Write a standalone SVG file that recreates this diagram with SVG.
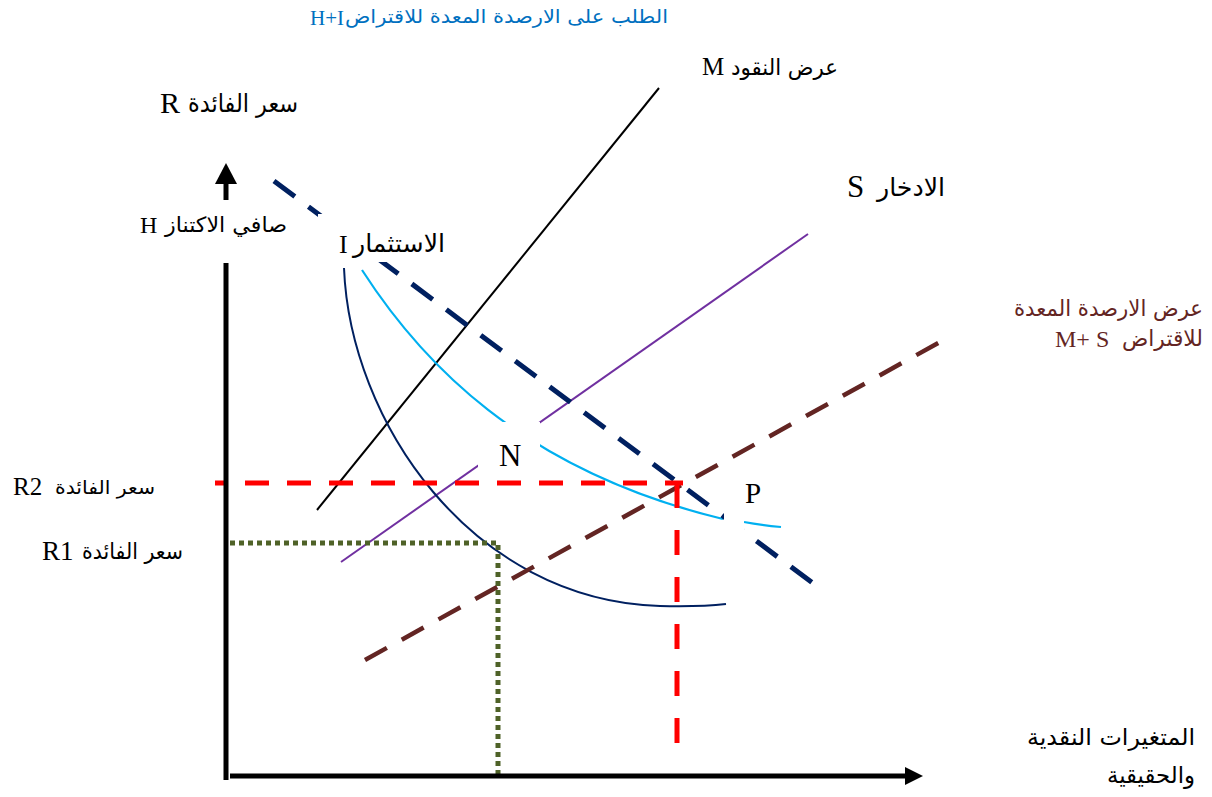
<svg xmlns="http://www.w3.org/2000/svg" width="1212" height="797" viewBox="0 0 1212 797">
<style>
.ar{font-family:"DejaVu Sans","Noto Sans",sans-serif}
.lat{font-family:"Liberation Serif","Times New Roman",serif}
.blk{fill:#000}
.mask{fill:#fff;stroke:none}
</style>
<rect width="1212" height="797" fill="#fff"/>
<g id="connectors" fill="none">
  <line id="line-M" x1="317" y1="510" x2="659" y2="88" stroke="#000" stroke-width="2"/>
  <line id="line-S" x1="341" y1="562" x2="808" y2="234" stroke="#7030A0" stroke-width="2"/>
  <path id="curve-H" d="M344,268 C350,420 470,600 660,606 Q700,607 726,604" stroke="#002060" stroke-width="2"/>
  <path id="curve-I" d="M362,270 C420,360 520,470 723,519" stroke="#00B0F0" stroke-width="2.2"/>
  <path id="curve-I2" d="M744,522 Q760,525 781,527" stroke="#00B0F0" stroke-width="2.2"/>
  <line id="line-HI" x1="274" y1="181" x2="822" y2="590" stroke="#002060" stroke-width="5" stroke-dasharray="26 17"/>
  <line id="line-MS" x1="365" y1="660" x2="940" y2="342" stroke="#632523" stroke-width="4.5" stroke-dasharray="25 17"/>
  <line id="r2-h" x1="215" y1="483" x2="683" y2="483" stroke="#FF0000" stroke-width="5" stroke-dasharray="24 18" stroke-dashoffset="12"/>
  <line id="r2-v" x1="677" y1="483" x2="677" y2="757" stroke="#FF0000" stroke-width="5" stroke-dasharray="25 22"/>
  <polyline id="r1" points="230,543 498,543 498,777" stroke="#4F6228" stroke-width="5" stroke-dasharray="5 4"/>
  <rect class="mask" x="318" y="214" width="130" height="48"/>
  <rect class="mask" x="478" y="422" width="62" height="48"/>
  <rect class="mask" x="724" y="505" width="20" height="30"/>
</g>
<g id="axes">
  <line x1="226" y1="263" x2="226" y2="780" stroke="#000" stroke-width="5"/>
  <line x1="226" y1="182" x2="226" y2="200" stroke="#000" stroke-width="5"/>
  <polygon points="215,184 226,163 237,184" fill="#000"/>
  <line x1="230" y1="776" x2="906" y2="776" stroke="#000" stroke-width="5"/>
  <polygon points="905,767 923,776 905,785" fill="#000"/>
</g>
<g id="label-top">
  <text class="lat" x="310" y="25" font-size="21" fill="#0070C0">H+I</text>
  <text class="ar" x="345" y="23" font-size="19" fill="#0070C0" textLength="323" lengthAdjust="spacingAndGlyphs">الطلب على الارصدة المعدة للاقتراض</text>
</g>
<g id="label-M">
  <text class="lat blk" x="702" y="75" font-size="25">M</text>
  <text class="ar blk" x="731" y="75" font-size="22" textLength="107" lengthAdjust="spacingAndGlyphs">عرض النقود</text>
</g>
<g id="label-R">
  <text class="lat blk" x="160" y="113" font-size="30">R</text>
  <text class="ar blk" x="188" y="112" font-size="25" textLength="110" lengthAdjust="spacingAndGlyphs">سعر الفائدة</text>
</g>
<g id="label-H">
  <text class="lat blk" x="140" y="233" font-size="24">H</text>
  <text class="ar blk" x="165" y="232" font-size="21" textLength="122" lengthAdjust="spacingAndGlyphs">صافي الاكتناز</text>
</g>
<g id="label-I">
  <text class="lat blk" x="339" y="253" font-size="26">I</text>
  <text class="ar blk" x="353" y="252" font-size="25" textLength="92" lengthAdjust="spacingAndGlyphs">الاستثمار</text>
</g>
<g id="label-S">
  <text class="lat blk" x="847" y="197" font-size="31">S</text>
  <text class="ar blk" x="877" y="196" font-size="25" textLength="68" lengthAdjust="spacingAndGlyphs">الادخار</text>
</g>
<g id="label-MS">
  <text class="ar" x="1014" y="316" font-size="22" fill="#632523" textLength="189" lengthAdjust="spacingAndGlyphs">عرض الارصدة المعدة</text>
  <text class="lat" x="1055" y="347" font-size="24" fill="#632523">M+ S</text>
  <text class="ar" x="1122" y="346" font-size="22" fill="#632523" textLength="81" lengthAdjust="spacingAndGlyphs">للاقتراض</text>
</g>
<g id="label-R2">
  <text class="lat blk" x="13" y="495" font-size="25">R2</text>
  <text class="ar blk" x="55" y="494" font-size="19" textLength="100" lengthAdjust="spacingAndGlyphs">سعر  الفائدة</text>
</g>
<g id="label-R1">
  <text class="lat blk" x="42" y="560" font-size="27">R1</text>
  <text class="ar blk" x="82" y="559" font-size="22" textLength="101" lengthAdjust="spacingAndGlyphs">سعر الفائدة</text>
</g>
<g id="point-N">
  <text class="lat blk" x="499" y="466" font-size="31">N</text>
</g>
<g id="point-P">
  <text class="lat blk" x="745" y="503" font-size="29">P</text>
</g>
<g id="label-x">
  <text class="ar blk" x="1027" y="745" font-size="23" textLength="168" lengthAdjust="spacingAndGlyphs">المتغيرات النقدية</text>
  <text class="ar blk" x="1107" y="783" font-size="23" textLength="88" lengthAdjust="spacingAndGlyphs">والحقيقية</text>
</g>
</svg>
